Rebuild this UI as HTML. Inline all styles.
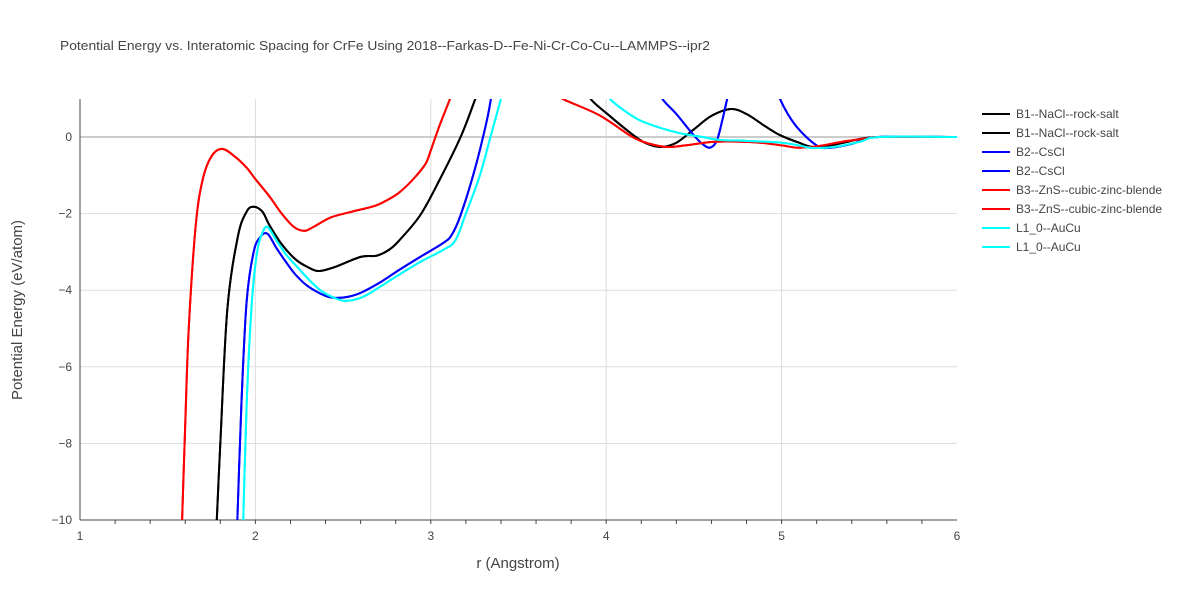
<!DOCTYPE html>
<html><head><meta charset="utf-8"><style>
body{margin:0;background:#fff;font-family:"Liberation Sans",sans-serif;}
svg text{font-family:"Liberation Sans",sans-serif;fill:#444;}
</style></head><body>
<svg id="chart" width="1200" height="600">
<defs><clipPath id="clip"><rect x="80" y="99" width="877" height="421"/></clipPath></defs>
<text x="60" y="50" font-size="13" textLength="650" lengthAdjust="spacingAndGlyphs">Potential Energy vs. Interatomic Spacing for CrFe Using 2018--Farkas-D--Fe-Ni-Cr-Co-Cu--LAMMPS--ipr2</text>
<g id="grid"></g><g id="axes"></g><g id="series" clip-path="url(#clip)"></g><g id="legend"></g>
<text x="518" y="568" font-size="15" text-anchor="middle">r (Angstrom)</text>
<text transform="translate(22,310) rotate(-90)" font-size="15" text-anchor="middle">Potential Energy (eV/atom)</text>
</svg>
<script>
const xTicks=[1,2,3,4,5,6];
const yTicks=[0,-2,-4,-6,-8,-10];
const seriesNames=["B1--NaCl--rock-salt","B2--CsCl","B3--ZnS--cubic-zinc-blende","L1_0--AuCu"];
const seriesColors=["#000000","#0000ff","#ff0000","#00ffff"];
// null separates branches that leave the visible range
const b1R=[1.77,1.8,1.84,1.9,1.95,1.99,2.04,2.08,2.15,2.23,2.3,2.36,2.45,2.6,2.69,2.76,2.82,2.94,3.05,3.17,3.25,3.3,null,3.88,3.91,4.02,4.14,4.22,4.31,4.4,4.5,4.6,4.71,4.8,4.9,4.99,5.1,5.18,5.3,5.45,5.55,5.7,6.0];
const b1E=[-11,-8,-4.5,-2.6,-1.95,-1.82,-1.95,-2.3,-2.8,-3.2,-3.4,-3.5,-3.4,-3.13,-3.1,-2.95,-2.7,-2.04,-1.12,0,0.95,1.6,null,1.4,1,0.55,0.1,-0.15,-0.26,-0.15,0.2,0.55,0.73,0.6,0.3,0.05,-0.15,-0.26,-0.2,-0.05,0,0,0];
const b2R=[1.89,1.92,1.95,1.99,2.03,2.07,2.12,2.18,2.23,2.3,2.4,2.46,2.53,2.6,2.71,2.82,2.94,3.07,3.12,3.17,3.25,3.32,3.35,null,4.29,4.32,4.4,4.48,4.54,4.59,4.63,4.66,4.69,4.71,null,4.97,4.99,5.08,5.2,5.28,5.4,5.55,6.0];
const b2E=[-11,-7,-4.3,-3.0,-2.6,-2.53,-2.9,-3.3,-3.6,-3.9,-4.15,-4.2,-4.17,-4.07,-3.8,-3.47,-3.13,-2.77,-2.55,-2.04,-0.86,0.44,1.2,null,1.4,1,0.6,0.15,-0.15,-0.28,-0.1,0.4,1.0,1.4,null,1.4,1,0.3,-0.22,-0.28,-0.18,0,0];
const b3R=[1.575,1.6,1.62,1.66,1.7,1.75,1.81,1.88,1.95,2.0,2.08,2.15,2.22,2.28,2.33,2.43,2.55,2.68,2.75,2.82,2.9,2.97,3.0,3.05,3.11,3.15,null,3.7,3.75,3.96,4.15,4.25,4.35,4.45,4.6,4.75,4.88,5.0,5.1,5.22,5.35,5.5,5.56,6.0];
const b3E=[-11,-7.5,-5,-2.3,-1.1,-0.5,-0.31,-0.5,-0.8,-1.1,-1.55,-2.0,-2.35,-2.45,-2.35,-2.1,-1.95,-1.8,-1.65,-1.45,-1.1,-0.7,-0.35,0.3,1,1.5,null,1.2,1,0.57,0.0,-0.18,-0.26,-0.22,-0.13,-0.12,-0.15,-0.22,-0.28,-0.23,-0.12,-0.03,0,0];
const l1R=[1.925,1.95,1.98,2.01,2.04,2.07,2.12,2.18,2.23,2.3,2.37,2.44,2.51,2.6,2.68,2.8,2.94,3.07,3.14,3.2,3.28,3.34,3.39,3.43,null,3.98,4.02,4.1,4.19,4.3,4.42,4.55,4.65,4.8,5.0,5.1,5.16,5.25,5.33,5.45,5.56,6.0];
const l1E=[-11,-7,-4.3,-3.0,-2.5,-2.35,-2.7,-3.1,-3.35,-3.7,-4.0,-4.18,-4.28,-4.2,-4.0,-3.65,-3.26,-2.95,-2.7,-2.0,-1.0,0,0.83,1.5,null,1.3,1,0.7,0.44,0.25,0.1,0,-0.08,-0.1,-0.15,-0.22,-0.28,-0.28,-0.24,-0.12,0,0];
const seriesR=[b1R,b2R,b3R,l1R], seriesE=[b1E,b2E,b3E,l1E];
const X=r=>80+(r-1)*175.4, Y=e=>137-e*38.3;
const NS="http://www.w3.org/2000/svg";
function mk(tag,attrs,parent){const el=document.createElementNS(NS,tag);for(const k in attrs)el.setAttribute(k,attrs[k]);parent.appendChild(el);return el;}
const grid=document.getElementById('grid'),axes=document.getElementById('axes');
xTicks.forEach(t=>{
  if(t>1&&t<6){const g=mk('line',{x1:X(t),x2:X(t),y1:99,y2:520,stroke:'#ddd'},grid);
  
  }
  const tx=mk('text',{x:X(t),y:540,'font-size':12,'text-anchor':'middle'},axes);tx.textContent=t;
  
  
});
for(let m=1.2;m<6;m+=0.2){const l=mk('line',{x1:X(m),x2:X(m),y1:520,y2:524,stroke:'#444'},axes);
  
  }
yTicks.forEach(t=>{
  if(t<0&&t>-10){const g=mk('line',{x1:80,x2:957,y1:Y(t),y2:Y(t),stroke:'#ddd'},grid);
  
  }
  const tx=mk('text',{x:72,y:Y(t)+4,'font-size':12,'text-anchor':'end'},axes);tx.textContent=t===0?'0':'\u2212'+(-t);
  
  
});
const z=mk('line',{x1:80,x2:957,y1:Y(0),y2:Y(0),stroke:'#ccc','stroke-width':2},grid);


const ya=mk('line',{x1:80,x2:80,y1:99,y2:520,stroke:'#444'},axes);


const xa=mk('line',{x1:80,x2:957,y1:520,y2:520,stroke:'#444'},axes);


function segD(p){let d='M'+p[0][0]+','+p[0][1];
 for(let i=0;i<p.length-1;i++){const p0=p[Math.max(0,i-1)],p1=p[i],p2=p[i+1],p3=p[Math.min(p.length-1,i+2)];
 const c1=[p1[0]+(p2[0]-p0[0])/6,p1[1]+(p2[1]-p0[1])/6],c2=[p2[0]-(p3[0]-p1[0])/6,p2[1]-(p3[1]-p1[1])/6];
 d+=' C'+c1+' '+c2+' '+p2;}return d;}
function pathD(rs,es){let segs=[],cur=[];rs.forEach((r,i)=>{if(r===null){if(cur.length)segs.push(cur);cur=[];}else cur.push([X(r),Y(es[i])]);});
 if(cur.length)segs.push(cur);return segs.map(segD).join(' ');}
const sg=document.getElementById('series'),lg=document.getElementById('legend');
[0,1,2,3].forEach(i=>{for(let k=0;k<2;k++){const p=mk('path',{d:pathD(seriesR[i],seriesE[i]),fill:'none',stroke:seriesColors[i],'stroke-width':2},sg);
  
  }});
let ly=114;
seriesNames.forEach((n,i)=>{for(let k=0;k<2;k++){
  const g=mk('g',{},lg);
  
  
  mk('line',{x1:982,x2:1010,y1:ly,y2:ly,stroke:seriesColors[i],'stroke-width':2},g);
  const t=mk('text',{x:1016,y:ly+4,'font-size':12},g);t.textContent=n;ly+=19;}});
</script>
</body></html>
